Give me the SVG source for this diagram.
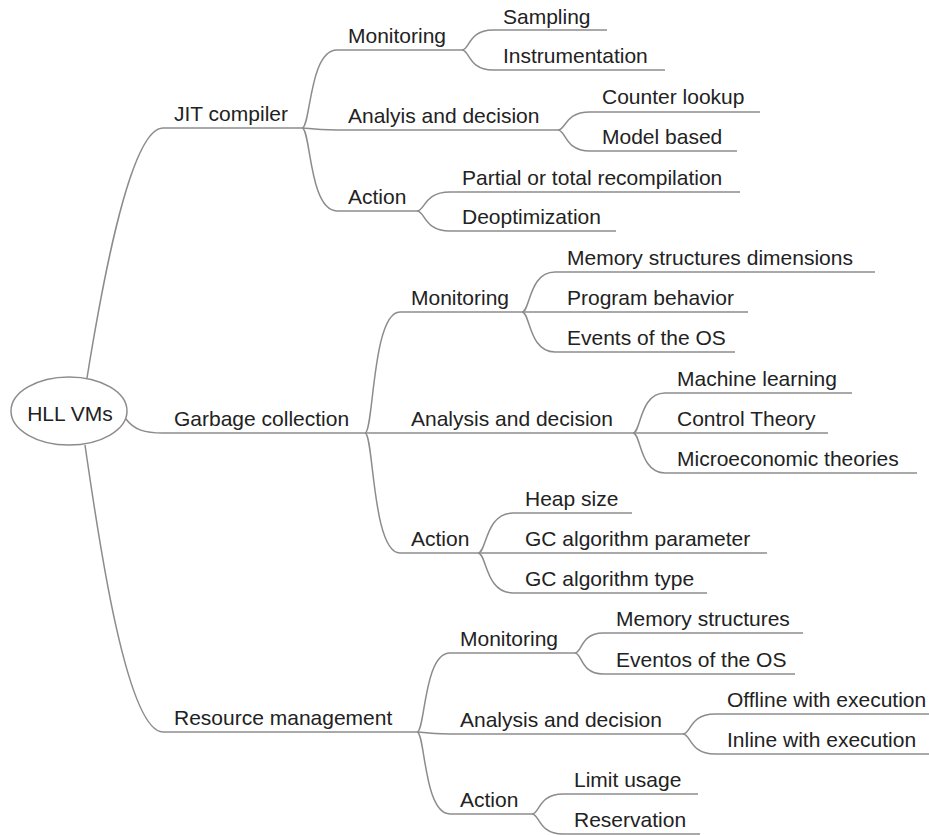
<svg xmlns="http://www.w3.org/2000/svg" width="929" height="835" viewBox="0 0 929 835">
  <style>
    .bg { fill: #ffffff; }
    .lbl { font-family: "Liberation Sans", Arial, sans-serif; font-size: 21px; fill: #222222; }
    .root-lbl { text-anchor: middle; }
    .ul { stroke: #8c8c8c; stroke-width: 1.5; fill: none; }
    .edge { stroke: #8c8c8c; stroke-width: 1.5; fill: none; }
    .oval { fill: #ffffff; stroke: #8c8c8c; stroke-width: 1.5; }
  </style>
  <rect class="bg" x="0" y="0" width="929" height="835"/>

  <!-- curved branches between a parent's underline end and a child's underline start -->
  <g id="connectors">
    <!-- root to first level -->
    <path class="edge" d="M87,378 C98,310 128,128 163,128"/>
    <path class="edge" d="M126,419 C134,430 145,433 163,433"/>
    <path class="edge" d="M85,445 C96,520 125,732 163,732"/>
    <!-- JIT compiler -->
    <path class="edge" d="M302,128 C310.75,128 309,50 337,50"/>
    <path class="edge" d="M302,128 C310.75,128 309,130 337,130"/>
    <path class="edge" d="M302,128 C310.75,128 309,211 337,211"/>
    <!-- Garbage collection -->
    <path class="edge" d="M365,433 C373.75,433 372,312 400,312"/>
    <path class="edge" d="M365,433 L400,433"/>
    <path class="edge" d="M365,433 C373.75,433 372,553 400,553"/>
    <!-- Resource management -->
    <path class="edge" d="M417,732 C425.25,732 423.6,653 450,653"/>
    <path class="edge" d="M417,732 C425.25,732 423.6,734 450,734"/>
    <path class="edge" d="M417,732 C425.25,732 423.6,814 450,814"/>
    <!-- JIT / Monitoring -->
    <path class="edge" d="M462,50 C469.75,50 468.2,30 493,30"/>
    <path class="edge" d="M462,50 C469.75,50 468.2,70 493,70"/>
    <!-- JIT / Analysis -->
    <path class="edge" d="M558,130 C566,130 564.4,112 590,112"/>
    <path class="edge" d="M558,130 C566,130 564.4,151 590,151"/>
    <!-- JIT / Action -->
    <path class="edge" d="M417,211 C425.25,211 423.6,192 450,192"/>
    <path class="edge" d="M417,211 C425.25,211 423.6,231 450,231"/>
    <!-- GC / Monitoring -->
    <path class="edge" d="M522,312 C530.25,312 528.6,272 555,272"/>
    <path class="edge" d="M522,312 L555,312"/>
    <path class="edge" d="M522,312 C530.25,312 528.6,352 555,352"/>
    <!-- GC / Analysis -->
    <path class="edge" d="M633,433 C641,433 639.4,393 665,393"/>
    <path class="edge" d="M633,433 L665,433"/>
    <path class="edge" d="M633,433 C641,433 639.4,473 665,473"/>
    <!-- GC / Action -->
    <path class="edge" d="M478,553 C486.75,553 485,513 513,513"/>
    <path class="edge" d="M478,553 L513,553"/>
    <path class="edge" d="M478,553 C486.75,553 485,593 513,593"/>
    <!-- RM / Monitoring -->
    <path class="edge" d="M575,653 C582,653 580.6,633 603,633"/>
    <path class="edge" d="M575,653 C582,653 580.6,674 603,674"/>
    <!-- RM / Analysis -->
    <path class="edge" d="M683,734 C691,734 689.4,714 715,714"/>
    <path class="edge" d="M683,734 C691,734 689.4,754 715,754"/>
    <!-- RM / Action -->
    <path class="edge" d="M532,814 C539.75,814 538.2,794 563,794"/>
    <path class="edge" d="M532,814 C539.75,814 538.2,834 563,834"/>
  </g>

  <!-- root -->
  <g id="hll-vms">
    <ellipse class="oval" cx="69" cy="411" rx="58" ry="34"/>
    <text class="lbl root-lbl" x="70" y="421">HLL VMs</text>
  </g>

  <!-- first level -->
  <g id="jit-compiler">
    <line class="ul" x1="163" y1="128" x2="302" y2="128"/>
    <text class="lbl" x="174" y="121">JIT compiler</text>
  </g>
  <g id="garbage-collection">
    <line class="ul" x1="163" y1="433" x2="365" y2="433"/>
    <text class="lbl" x="174" y="426">Garbage collection</text>
  </g>
  <g id="resource-management">
    <line class="ul" x1="163" y1="732" x2="417" y2="732"/>
    <text class="lbl" x="174" y="725">Resource management</text>
  </g>

  <!-- JIT compiler branch -->
  <g id="jit-monitoring">
    <line class="ul" x1="337" y1="50" x2="462" y2="50"/>
    <text class="lbl" x="348" y="43">Monitoring</text>
  </g>
  <g id="jit-analysis">
    <line class="ul" x1="337" y1="130" x2="558" y2="130"/>
    <text class="lbl" x="348" y="123">Analyis and decision</text>
  </g>
  <g id="jit-action">
    <line class="ul" x1="337" y1="211" x2="417" y2="211"/>
    <text class="lbl" x="348" y="204">Action</text>
  </g>
  <g id="sampling">
    <line class="ul" x1="493" y1="30" x2="607" y2="30"/>
    <text class="lbl" x="503" y="24">Sampling</text>
  </g>
  <g id="instrumentation">
    <line class="ul" x1="493" y1="70" x2="665" y2="70"/>
    <text class="lbl" x="503" y="63">Instrumentation</text>
  </g>
  <g id="counter-lookup">
    <line class="ul" x1="590" y1="112" x2="760" y2="112"/>
    <text class="lbl" x="602" y="104">Counter lookup</text>
  </g>
  <g id="model-based">
    <line class="ul" x1="590" y1="151" x2="737" y2="151"/>
    <text class="lbl" x="602" y="144">Model based</text>
  </g>
  <g id="recompilation">
    <line class="ul" x1="450" y1="192" x2="740" y2="192"/>
    <text class="lbl" x="462" y="185">Partial or total recompilation</text>
  </g>
  <g id="deoptimization">
    <line class="ul" x1="450" y1="231" x2="616" y2="231"/>
    <text class="lbl" x="462" y="224">Deoptimization</text>
  </g>

  <!-- Garbage collection branch -->
  <g id="gc-monitoring">
    <line class="ul" x1="400" y1="312" x2="522" y2="312"/>
    <text class="lbl" x="411" y="305">Monitoring</text>
  </g>
  <g id="gc-analysis">
    <line class="ul" x1="400" y1="433" x2="633" y2="433"/>
    <text class="lbl" x="411" y="426">Analysis and decision</text>
  </g>
  <g id="gc-action">
    <line class="ul" x1="400" y1="553" x2="478" y2="553"/>
    <text class="lbl" x="411" y="546">Action</text>
  </g>
  <g id="memory-dimensions">
    <line class="ul" x1="555" y1="272" x2="875" y2="272"/>
    <text class="lbl" x="567" y="265">Memory structures dimensions</text>
  </g>
  <g id="program-behavior">
    <line class="ul" x1="555" y1="312" x2="748" y2="312"/>
    <text class="lbl" x="567" y="305">Program behavior</text>
  </g>
  <g id="os-events">
    <line class="ul" x1="555" y1="352" x2="735" y2="352"/>
    <text class="lbl" x="567" y="345">Events of the OS</text>
  </g>
  <g id="machine-learning">
    <line class="ul" x1="665" y1="393" x2="852" y2="393"/>
    <text class="lbl" x="677" y="386">Machine learning</text>
  </g>
  <g id="control-theory">
    <line class="ul" x1="665" y1="433" x2="828" y2="433"/>
    <text class="lbl" x="677" y="426">Control Theory</text>
  </g>
  <g id="microeconomic">
    <line class="ul" x1="665" y1="473" x2="917" y2="473"/>
    <text class="lbl" x="677" y="466">Microeconomic theories</text>
  </g>
  <g id="heap-size">
    <line class="ul" x1="513" y1="513" x2="632" y2="513"/>
    <text class="lbl" x="525" y="506">Heap size</text>
  </g>
  <g id="gc-parameter">
    <line class="ul" x1="513" y1="553" x2="767" y2="553"/>
    <text class="lbl" x="525" y="546">GC algorithm parameter</text>
  </g>
  <g id="gc-type">
    <line class="ul" x1="513" y1="593" x2="707" y2="593"/>
    <text class="lbl" x="525" y="586">GC algorithm type</text>
  </g>

  <!-- Resource management branch -->
  <g id="rm-monitoring">
    <line class="ul" x1="450" y1="653" x2="575" y2="653"/>
    <text class="lbl" x="460" y="646">Monitoring</text>
  </g>
  <g id="rm-analysis">
    <line class="ul" x1="450" y1="734" x2="683" y2="734"/>
    <text class="lbl" x="460" y="727">Analysis and decision</text>
  </g>
  <g id="rm-action">
    <line class="ul" x1="450" y1="814" x2="532" y2="814"/>
    <text class="lbl" x="460" y="807">Action</text>
  </g>
  <g id="memory-structures">
    <line class="ul" x1="603" y1="633" x2="803" y2="633"/>
    <text class="lbl" x="616" y="626">Memory structures</text>
  </g>
  <g id="os-eventos">
    <line class="ul" x1="603" y1="674" x2="795" y2="674"/>
    <text class="lbl" x="616" y="667">Eventos of the OS</text>
  </g>
  <g id="offline">
    <line class="ul" x1="715" y1="714" x2="935" y2="714"/>
    <text class="lbl" x="727" y="707">Offline with execution</text>
  </g>
  <g id="inline">
    <line class="ul" x1="715" y1="754" x2="935" y2="754"/>
    <text class="lbl" x="727" y="747">Inline with execution</text>
  </g>
  <g id="limit-usage">
    <line class="ul" x1="563" y1="794" x2="698" y2="794"/>
    <text class="lbl" x="574" y="787">Limit usage</text>
  </g>
  <g id="reservation">
    <line class="ul" x1="563" y1="834" x2="700" y2="834"/>
    <text class="lbl" x="574" y="827">Reservation</text>
  </g>
</svg>
